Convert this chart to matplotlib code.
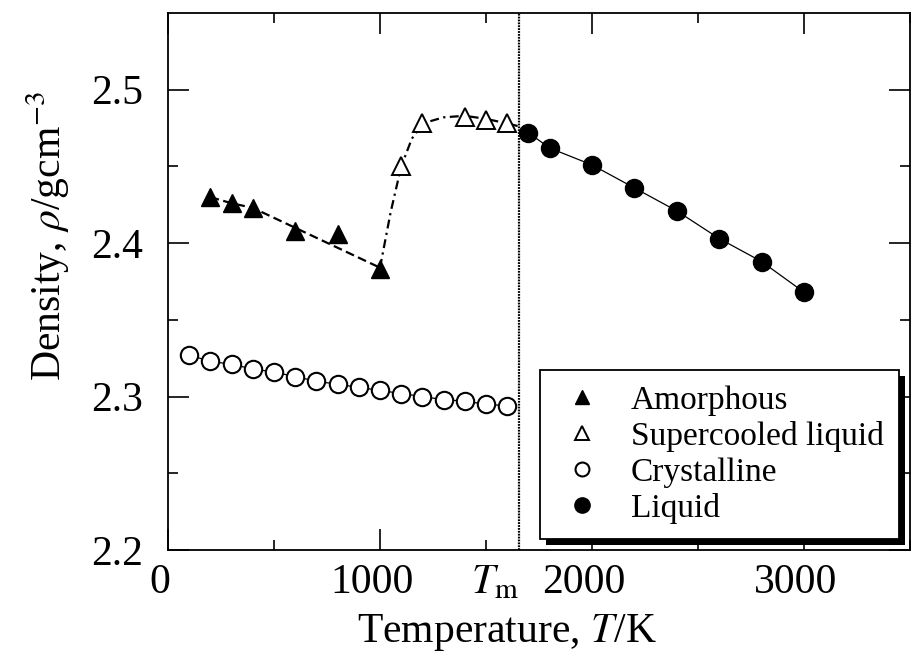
import matplotlib as mpl
mpl.use('Agg')
import matplotlib.pyplot as plt
from matplotlib.lines import Line2D
from matplotlib.patches import Rectangle
from matplotlib.transforms import Affine2D, blended_transform_factory

mpl.rcParams.update({
    'font.family': 'serif',
    'font.serif': ['Liberation Serif', 'DejaVu Serif'],
    'mathtext.fontset': 'stix',
    'font.size': 30,
})

# data
T_amorph = [200, 300, 400, 600, 800, 1000]
rho_amorph = [2.430, 2.426, 2.423, 2.408, 2.406, 2.383]
T_amorph_fit = [200, 300, 400, 1000]
rho_amorph_fit = [2.430, 2.426, 2.423, 2.384]

T_super = [1100, 1200, 1400, 1500, 1600]
rho_super = [2.450, 2.478, 2.482, 2.480, 2.478]
T_super_fit = [1000, 1050, 1100, 1150, 1200, 1300, 1400, 1500, 1600, 1660]
rho_super_fit = [2.384, 2.420, 2.450, 2.468, 2.478, 2.482, 2.483, 2.481, 2.478, 2.476]

T_cryst = [100, 200, 300, 400, 500, 600, 700, 800, 900, 1000,
           1100, 1200, 1300, 1400, 1500, 1600]
rho_cryst = [2.327, 2.323, 2.321, 2.318, 2.316, 2.313, 2.310, 2.308, 2.306, 2.304,
             2.302, 2.300, 2.298, 2.297, 2.295, 2.294]

T_liq = [1700, 1800, 2000, 2200, 2400, 2600, 2800, 3000]
rho_liq = [2.472, 2.462, 2.451, 2.436, 2.421, 2.403, 2.388, 2.368]

T_m = 1655
x_ticks = [0, 1000, 2000, 3000]
y_ticks = [2.2, 2.3, 2.4, 2.5]

fig = plt.figure(figsize=(9.12, 6.64), dpi=100)
ax = fig.add_axes([168/912, 114/664, 742/912, 537/664])

# fit curves
ax.plot(T_amorph_fit, rho_amorph_fit, color='k', lw=1.6, ls=(0, (4, 2)))
ax.plot(T_super_fit, rho_super_fit, color='k', lw=1.6, ls=(0, (4, 2, 1, 2)))
ax.plot(T_cryst, rho_cryst, color='k', lw=0.9)
ax.plot(T_liq, rho_liq, color='k', lw=0.9)
ax.axvline(T_m, color='k', lw=1.6, ls=(0, (0.8, 0.5)), zorder=1)

# markers
ax.plot(T_amorph, rho_amorph, ls='none', marker='^', ms=13, mfc='k', mec='k')
ax.plot(T_super, rho_super, ls='none', marker='^', ms=13, mfc='w', mec='k', mew=1.4)
ax.plot(T_cryst, rho_cryst, ls='none', marker='o', ms=12.5, mfc='w', mec='k', mew=1.5)
ax.plot(T_liq, rho_liq, ls='none', marker='o', ms=13, mfc='k', mec='k')

# axes
ax.set_xlim(0, 3500)
ax.set_ylim(2.2, 2.55)
ax.set_xticks(x_ticks)
ax.set_xticklabels([str(t) for t in x_ticks])
ax.set_xticks([500, 1500, 2500, 3500], minor=True)
ax.set_yticks(y_ticks)
ax.set_yticklabels(['%.1f' % v for v in y_ticks])
ax.set_yticks([2.25, 2.35, 2.45], minor=True)
ax.tick_params(which='both', direction='in', top=True, right=True, width=1.2, labelsize=30)
ax.tick_params(which='major', length=15)
ax.tick_params(which='minor', length=7)
ax.tick_params(axis='x', pad=10)
ax.tick_params(axis='y', pad=18)
for sp in ax.spines.values():
    sp.set_linewidth(1.3)

# shift the x labels a little to the left, as in the original
for lbl in ax.get_xticklabels():
    lbl.set_transform(lbl.get_transform() + Affine2D().translate(-8, 0))

trans = blended_transform_factory(ax.transData, ax.transAxes)
ax.text(T_m, -0.025, r'$T_{\mathrm{m}}$', transform=trans, ha='right', va='top', fontsize=30)

ax.set_xlabel(r'Temperature, $T$/K', fontsize=30)
ax.xaxis.set_label_coords(0.457, -0.115)
ax.set_ylabel(r'Density, $\rho$/gcm$^{-3}$', fontsize=30)
ax.yaxis.set_label_coords(-0.13, 0.585)

# legend with a hard black shadow
handles = [
    Line2D([], [], ls='none', marker='^', ms=10, mfc='k', mec='k'),
    Line2D([], [], ls='none', marker='^', ms=10, mfc='w', mec='k', mew=1.4),
    Line2D([], [], ls='none', marker='o', ms=10, mfc='w', mec='k', mew=1.5),
    Line2D([], [], ls='none', marker='o', ms=11, mfc='k', mec='k'),
]
labels = ['Amorphous', 'Supercooled liquid', 'Crystalline', 'Liquid']
leg = ax.legend(handles, labels, loc='upper left', bbox_to_anchor=((540-168)/742, (550-370)/537),
                borderaxespad=0, fontsize=24, frameon=True, fancybox=False,
                handlelength=1.6, handletextpad=0.65, borderpad=0.47, labelspacing=0.15)
leg.get_frame().set_edgecolor('k')
leg.get_frame().set_linewidth(1.3)
leg.get_frame().set_alpha(1)

fig.canvas.draw()
bb = leg.get_window_extent().transformed(ax.transAxes.inverted())
ax.add_patch(Rectangle((bb.x0 + 6/742, bb.y0 - 6/537), bb.width, bb.height,
                       transform=ax.transAxes, facecolor='k', edgecolor='none',
                       zorder=4.9, clip_on=False))

fig.savefig('out.png', dpi=100)
